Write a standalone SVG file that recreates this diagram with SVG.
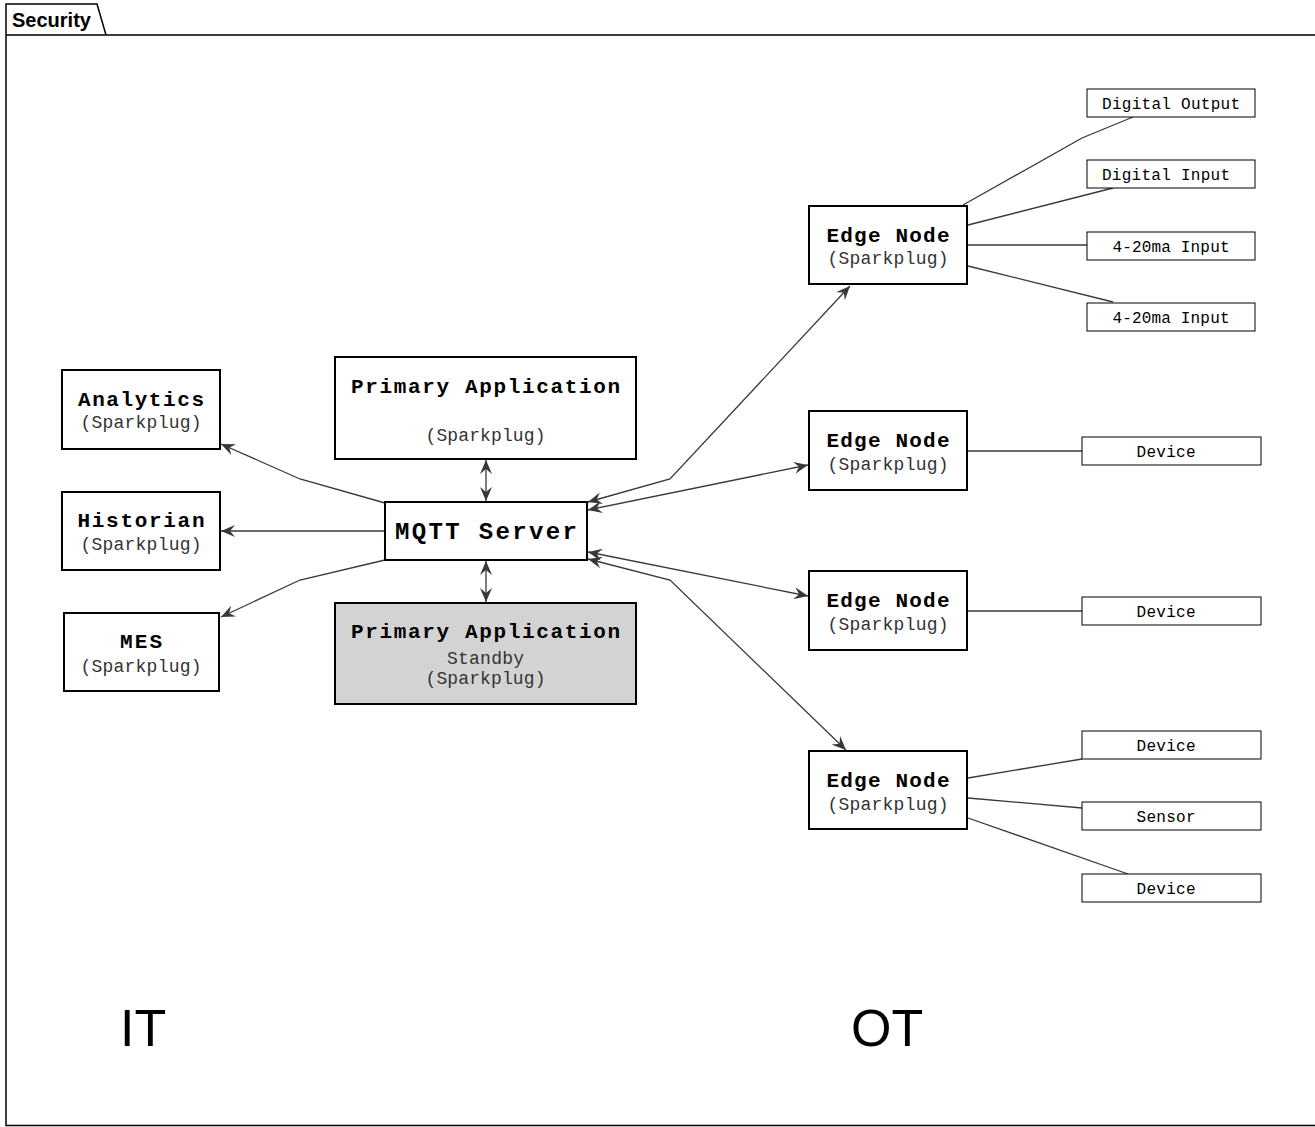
<svg xmlns="http://www.w3.org/2000/svg" width="1315" height="1127" viewBox="0 0 1315 1127">
<defs>
<style>
.frame{fill:none;stroke:#000;stroke-width:1.5}
.node{fill:#fff;stroke:#000;stroke-width:2}
.standby{fill:#d3d3d3;stroke:#000;stroke-width:2}
.small{fill:#fff;stroke:#000;stroke-width:1}
.b{font-family:"Liberation Mono","DejaVu Sans Mono",monospace;font-weight:bold;font-size:21px;fill:#000;text-anchor:middle}
.bm{font-family:"Liberation Mono","DejaVu Sans Mono",monospace;font-weight:bold;font-size:24px;fill:#000;text-anchor:middle}
.r{font-family:"Liberation Mono","DejaVu Sans Mono",monospace;font-size:18px;fill:#333;text-anchor:middle}
.s{font-family:"Liberation Mono","DejaVu Sans Mono",monospace;font-size:16px;fill:#000;text-anchor:middle}
.big{font-family:"Liberation Sans",Arial,sans-serif;font-size:52px;fill:#000}
.title{font-family:"Liberation Sans",Arial,sans-serif;font-weight:bold;font-size:20px;fill:#000}
.c{fill:none;stroke:#383838;stroke-width:1.3}
.ca{fill:none;stroke:#383838;stroke-width:1.3;marker-end:url(#ah)}
.cb{fill:none;stroke:#383838;stroke-width:1.3;marker-start:url(#ah);marker-end:url(#ah)}
</style>
<marker id="ah" viewBox="0 0 14 12" refX="14" refY="6" markerWidth="14" markerHeight="12" markerUnits="userSpaceOnUse" orient="auto-start-reverse">
<path d="M14,6 L0,0 L5,6 L0,12 Z" fill="#383838"/>
</marker>
</defs>
<rect width="1315" height="1127" fill="#fff"/>
<g id="frame">
<path class="frame" d="M6,35 V1125.5 H1320 M6,35 H1320 M6,35 V4 H97 L106,35"/>
<text class="title" x="12" y="27">Security</text>
</g>
<g id="connectors">
<polyline class="ca" points="385,503 300,479 221,444"/>
<line class="ca" x1="385" y1="531" x2="221" y2="531"/>
<polyline class="ca" points="385,560 300,580 221,617"/>
<line class="cb" x1="486" y1="460" x2="486" y2="501"/>
<line class="cb" x1="486" y1="561" x2="486" y2="602"/>
<polyline class="cb" points="588,502 670,479 850,286"/>
<line class="cb" x1="588" y1="510" x2="808" y2="465"/>
<line class="cb" x1="588" y1="552" x2="808" y2="596"/>
<polyline class="cb" points="588,559 670,580 846,750"/>
<polyline class="c" points="963,205 1082,138 1133,117"/>
<line class="c" x1="968" y1="225" x2="1113" y2="188"/>
<line class="c" x1="968" y1="245" x2="1087" y2="245"/>
<line class="c" x1="968" y1="266" x2="1113" y2="302"/>
<line class="c" x1="968" y1="451" x2="1082" y2="451"/>
<line class="c" x1="968" y1="611" x2="1082" y2="611"/>
<line class="c" x1="968" y1="778" x2="1082" y2="759"/>
<line class="c" x1="968" y1="798" x2="1082" y2="808"/>
<line class="c" x1="968" y1="818" x2="1128" y2="874"/>
</g>
<g id="analytics">
<rect class="node" x="62" y="370" width="158" height="79"/>
<text class="b" x="141" y="406" textLength="126" lengthAdjust="spacing">Analytics</text>
<text class="r" x="141" y="428" textLength="121" lengthAdjust="spacing">(Sparkplug)</text>
</g>
<g id="historian">
<rect class="node" x="62" y="492" width="158" height="78"/>
<text class="b" x="141" y="527" textLength="127" lengthAdjust="spacing">Historian</text>
<text class="r" x="141" y="550" textLength="121" lengthAdjust="spacing">(Sparkplug)</text>
</g>
<g id="mes">
<rect class="node" x="64" y="613" width="155" height="78"/>
<text class="b" x="141" y="648" textLength="42" lengthAdjust="spacing">MES</text>
<text class="r" x="141" y="672" textLength="121" lengthAdjust="spacing">(Sparkplug)</text>
</g>
<g id="primary">
<rect class="node" x="335" y="357" width="301" height="102"/>
<text class="b" x="485.5" y="393" textLength="269" lengthAdjust="spacing">Primary Application</text>
<text class="r" x="485.5" y="441" textLength="120" lengthAdjust="spacing">(Sparkplug)</text>
</g>
<g id="mqtt">
<rect class="node" x="385" y="502" width="202" height="58"/>
<text class="bm" x="486" y="539" textLength="182" lengthAdjust="spacing">MQTT Server</text>
</g>
<g id="standby">
<rect class="standby" x="335" y="603" width="301" height="101"/>
<text class="b" x="485.5" y="638" textLength="269" lengthAdjust="spacing">Primary Application</text>
<text class="r" x="485.5" y="664" textLength="77" lengthAdjust="spacing">Standby</text>
<text class="r" x="485.5" y="684" textLength="120" lengthAdjust="spacing">(Sparkplug)</text>
</g>
<g id="edge1">
<rect class="node" x="809" y="206" width="158" height="78"/>
<text class="b" x="888" y="242" textLength="123" lengthAdjust="spacing">Edge Node</text>
<text class="r" x="888" y="264" textLength="121" lengthAdjust="spacing">(Sparkplug)</text>
</g>
<g id="edge2">
<rect class="node" x="809" y="411" width="158" height="79"/>
<text class="b" x="888" y="447" textLength="123" lengthAdjust="spacing">Edge Node</text>
<text class="r" x="888" y="470" textLength="121" lengthAdjust="spacing">(Sparkplug)</text>
</g>
<g id="edge3">
<rect class="node" x="809" y="571" width="158" height="79"/>
<text class="b" x="888" y="607" textLength="123" lengthAdjust="spacing">Edge Node</text>
<text class="r" x="888" y="630" textLength="121" lengthAdjust="spacing">(Sparkplug)</text>
</g>
<g id="edge4">
<rect class="node" x="809" y="751" width="158" height="78"/>
<text class="b" x="888" y="787" textLength="123" lengthAdjust="spacing">Edge Node</text>
<text class="r" x="888" y="810" textLength="121" lengthAdjust="spacing">(Sparkplug)</text>
</g>
<g id="dout">
<rect class="small" x="1087" y="89" width="168" height="28"/>
<text class="s" x="1171" y="109" textLength="138" lengthAdjust="spacing">Digital Output</text>
</g>
<g id="din">
<rect class="small" x="1087" y="160" width="168" height="28"/>
<text class="s" x="1166" y="180" textLength="128" lengthAdjust="spacing">Digital Input</text>
</g>
<g id="ai1">
<rect class="small" x="1087" y="232" width="168" height="28"/>
<text class="s" x="1171" y="252" textLength="117" lengthAdjust="spacing">4-20ma Input</text>
</g>
<g id="ai2">
<rect class="small" x="1087" y="303" width="168" height="28"/>
<text class="s" x="1171" y="323" textLength="117" lengthAdjust="spacing">4-20ma Input</text>
</g>
<g id="dev2">
<rect class="small" x="1082" y="437" width="179" height="28"/>
<text class="s" x="1166" y="457" textLength="59" lengthAdjust="spacing">Device</text>
</g>
<g id="dev3">
<rect class="small" x="1082" y="597" width="179" height="28"/>
<text class="s" x="1166" y="617" textLength="59" lengthAdjust="spacing">Device</text>
</g>
<g id="dev4a">
<rect class="small" x="1082" y="731" width="179" height="28"/>
<text class="s" x="1166" y="751" textLength="59" lengthAdjust="spacing">Device</text>
</g>
<g id="sensor">
<rect class="small" x="1082" y="802" width="179" height="28"/>
<text class="s" x="1166" y="822" textLength="59" lengthAdjust="spacing">Sensor</text>
</g>
<g id="dev4b">
<rect class="small" x="1082" y="874" width="179" height="28"/>
<text class="s" x="1166" y="894" textLength="59" lengthAdjust="spacing">Device</text>
</g>
<g id="labels">
<text class="big" x="120" y="1046">IT</text>
<text class="big" x="851" y="1046">OT</text>
</g>
</svg>
